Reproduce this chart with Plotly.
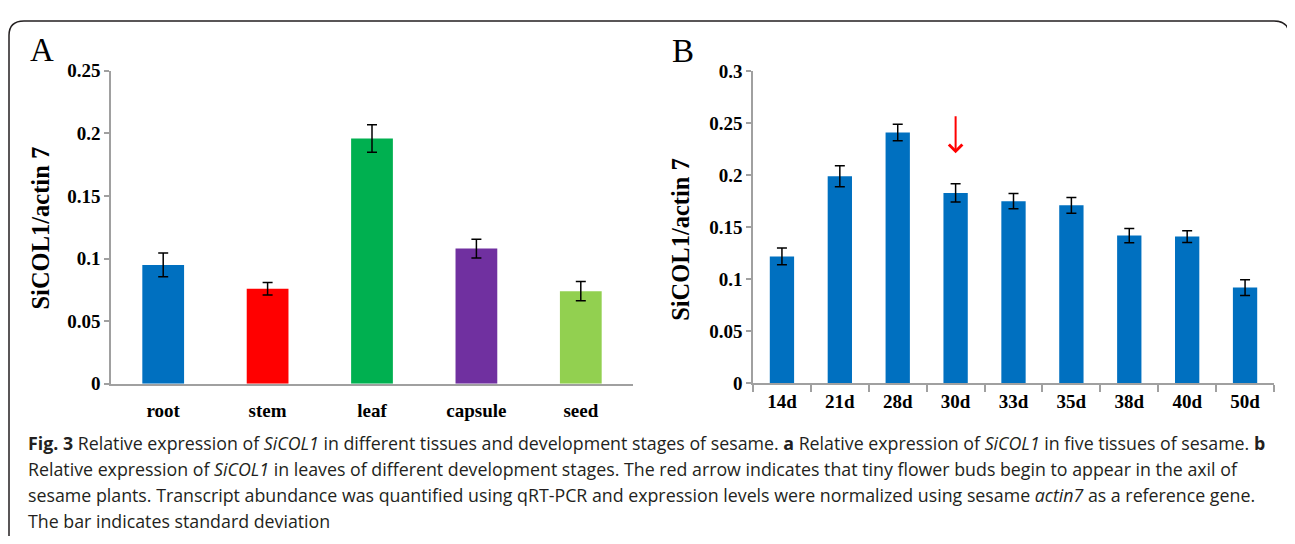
import plotly.graph_objects as go

# The page keeps the browser's default 8px body margin, so the figure is
# sized to exactly fill the 1295x544 window inside that margin.
WIN_W, WIN_H, OFF = 1295, 544, 8
W, H = WIN_W - 2 * OFF, WIN_H - 2 * OFF


def px(x):
    return (x - OFF) / W


def py(y):
    return 1 - (y - OFF) / H


# ---------------- data ----------------
tissues = ["root", "stem", "leaf", "capsule", "seed"]
tissue_vals = [0.095, 0.076, 0.196, 0.108, 0.074]
tissue_err = [0.0095, 0.005, 0.011, 0.0075, 0.0077]
tissue_colors = ["#0070C0", "#FF0000", "#00B050", "#7030A0", "#92D050"]

stages = ["14d", "21d", "28d", "30d", "33d", "35d", "38d", "40d", "50d"]
stage_vals = [0.122, 0.199, 0.241, 0.183, 0.175, 0.171, 0.142, 0.141, 0.092]
stage_err = [0.008, 0.010, 0.008, 0.0087, 0.0073, 0.0075, 0.0068, 0.0057, 0.0075]
stage_color = "#0070C0"

arrow_stage = "30d"
arrow_top = 0.258
arrow_tip = 0.221

y_title = "SiCOL1/actin 7"
caption_lines = [
    "<b>Fig. 3</b> Relative expression of <i>SiCOL1</i> in different tissues and development stages of sesame. "
    "<b>a</b> Relative expression of <i>SiCOL1</i> in five tissues of sesame. <b>b</b>",
    "Relative expression of <i>SiCOL1</i> in leaves of different development stages. The red arrow indicates "
    "that tiny flower buds begin to appear in the axil of",
    "sesame plants. Transcript abundance was quantified using qRT-PCR and expression levels were normalized "
    "using sesame <i>actin7</i> as a reference gene.",
    "The bar indicates standard deviation",
]

SERIF = "Liberation Serif, Times New Roman, serif"
SANS = "Open Sans, Noto Sans, sans-serif"
AXIS_GRAY = "#a0a0a0"

fig = go.Figure()
fig.add_trace(go.Bar(
    x=tissues, y=tissue_vals, width=0.4,
    marker=dict(color=tissue_colors, line=dict(width=0)),
    error_y=dict(type="data", array=tissue_err, color="black", thickness=1.5, width=5),
    xaxis="x", yaxis="y", hoverinfo="skip",
))
fig.add_trace(go.Bar(
    x=stages, y=stage_vals, width=0.42,
    marker=dict(color=stage_color, line=dict(width=0)),
    error_y=dict(type="data", array=stage_err, color="black", thickness=1.5, width=5),
    xaxis="x2", yaxis="y2", hoverinfo="skip",
))

tickfont = dict(family=SERIF, size=19, color="black", weight="bold")

fig.update_layout(
    width=W, height=H,
    margin=dict(l=0, r=0, t=0, b=0),
    paper_bgcolor="white", plot_bgcolor="white",
    showlegend=False,
    xaxis=dict(domain=[px(111), px(633)], anchor="y", showline=True, linecolor=AXIS_GRAY,
               linewidth=1.5, ticks="", showgrid=False, zeroline=False, tickfont=tickfont,
               ticklabelstandoff=9),
    yaxis=dict(domain=[py(389), py(63)], anchor="x", range=[0, 0.25], dtick=0.05,
               showline=True, linecolor=AXIS_GRAY, linewidth=1.5, ticks="outside", ticklen=5,
               tickcolor=AXIS_GRAY, tickwidth=1.5, showgrid=False, zeroline=False, tickfont=tickfont),
    xaxis2=dict(domain=[px(753), px(1274)], anchor="y2", showline=True, linecolor=AXIS_GRAY,
                linewidth=1.5, ticks="outside", tickson="boundaries", ticklen=7, tickcolor=AXIS_GRAY,
                tickwidth=1.5, showgrid=False, zeroline=False, tickfont=tickfont),
    yaxis2=dict(domain=[py(388.5), py(63.3)], anchor="x2", range=[0, 0.3], dtick=0.05,
                showline=True, linecolor=AXIS_GRAY, linewidth=1.5, ticks="outside", ticklen=5,
                tickcolor=AXIS_GRAY, tickwidth=1.5, showgrid=False, zeroline=False, tickfont=tickfont),
)

ann = []
# axis titles
ann.append(dict(text=y_title, x=px(40.7), y=py(226.5), xref="paper", yref="paper", textangle=-90,
                showarrow=False, xanchor="center", yanchor="middle",
                font=dict(family=SERIF, size=24.5, color="black", weight="bold")))
ann.append(dict(text=y_title, x=px(680.5), y=py(238.5), xref="paper", yref="paper", textangle=-90,
                showarrow=False, xanchor="center", yanchor="middle",
                font=dict(family=SERIF, size=24.5, color="black", weight="bold")))
# panel letters
ann.append(dict(text="A", x=px(28), y=py(41), xref="paper", yref="paper", showarrow=False,
                xanchor="left", yanchor="middle", font=dict(family=SERIF, size=33, color="black")))
ann.append(dict(text="B", x=px(670), y=py(42), xref="paper", yref="paper", showarrow=False,
                xanchor="left", yanchor="middle", font=dict(family=SERIF, size=33, color="black")))
# red arrow
ann.append(dict(x=arrow_stage, y=arrow_tip, ax=arrow_stage, ay=arrow_top, xref="x2", yref="y2",
                axref="x2", ayref="y2", text="", showarrow=True, arrowhead=4, arrowsize=1.3,
                arrowwidth=2, arrowcolor="#FF0000"))
# caption
cap_y = [451, 478, 505, 532]
for line, yy in zip(caption_lines, cap_y):
    ann.append(dict(text=line, x=px(26), y=py(yy), xref="paper", yref="paper", showarrow=False,
                    xanchor="left", yanchor="middle", align="left",
                    font=dict(family=SANS, size=17.8, color="#231f20")))
fig.update_layout(annotations=ann)

# rounded frame around the figure (open at the bottom)
L, R, T, B, r = 9, 1289, 11, 580, 15
path = (f"M {px(L)},{py(B)} L {px(L)},{py(T + r)} Q {px(L)},{py(T)} {px(L + r)},{py(T)} "
        f"L {px(R - r)},{py(T)} Q {px(R)},{py(T)} {px(R)},{py(T + r)} L {px(R)},{py(B)}")
fig.add_shape(type="path", path=path, xref="paper", yref="paper",
              line=dict(color="#231f20", width=1.5))

fig.write_html("out.html", config={"displayModeBar": False})
